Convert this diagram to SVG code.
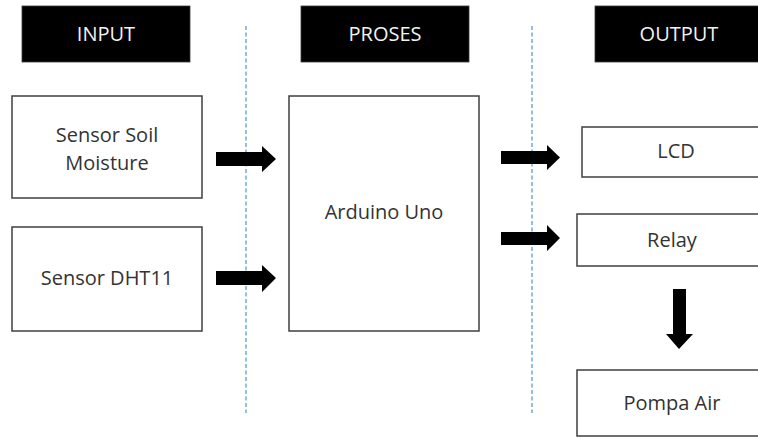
<svg xmlns="http://www.w3.org/2000/svg" width="758" height="439" viewBox="0 0 758 439">
<style>
.hdr{fill:#000;stroke:#3a3a3a;stroke-width:0.8}
.hdrt{fill:#f2f2f2;font-family:"Open Sans","Liberation Sans",sans-serif;font-size:20px;text-anchor:middle}
.box{fill:#fff;stroke:#3f3f3f;stroke-width:1.5}
.t{fill:#333;font-family:"Open Sans","Liberation Sans",sans-serif;font-size:20px;text-anchor:middle}
.div{stroke:#5b9bd5;stroke-width:1.3;stroke-dasharray:4 2.5;fill:none}
.arr{fill:#000}
</style>
<rect width="758" height="439" fill="#fff"/>
<g id="dividers">
<line class="div" x1="246" y1="26" x2="246" y2="413"/>
<line class="div" x1="532" y1="26" x2="532" y2="413"/>
</g>
<g id="hdr-input"><rect class="hdr" x="22" y="6" width="168" height="56"/><text class="hdrt" x="106" y="41">INPUT</text></g>
<g id="hdr-proses"><rect class="hdr" x="301" y="6" width="168" height="56"/><text class="hdrt" x="385" y="41">PROSES</text></g>
<g id="hdr-output"><rect class="hdr" x="595" y="6" width="168" height="56"/><text class="hdrt" x="679" y="41">OUTPUT</text></g>
<g id="soil"><rect class="box" x="12" y="96" width="190" height="102"/><text class="t" x="107" y="142">Sensor Soil</text><text class="t" x="107" y="170">Moisture</text></g>
<g id="dht11"><rect class="box" x="12" y="227" width="190" height="104"/><text class="t" x="107" y="285">Sensor DHT11</text></g>
<g id="arduino"><rect class="box" x="289" y="96" width="190" height="235"/><text class="t" x="384" y="219">Arduino Uno</text></g>
<g id="lcd"><rect class="box" x="582" y="127" width="190" height="50"/><text class="t" x="676" y="158">LCD</text></g>
<g id="relay"><rect class="box" x="577" y="214" width="190" height="52"/><text class="t" x="672" y="247">Relay</text></g>
<g id="pompa"><rect class="box" x="577" y="370" width="190" height="66"/><text class="t" x="672" y="410">Pompa Air</text></g>
<g id="connectors">
<polygon class="arr" points="216,152 262,152 262,146 276,159 262,172 262,166 216,166"/>
<polygon class="arr" points="216,271 262,271 262,265 276,278 262,292 262,285 216,285"/>
<polygon class="arr" points="501,151 547,151 547,145 560,157.5 547,170 547,164 501,164"/>
<polygon class="arr" points="501,232 547,232 547,225 560,238 547,251 547,245 501,245"/>
<polygon class="arr" points="673,289 686,289 686,334 693,334 679,349 666,334 673,334"/>
</g>
</svg>
